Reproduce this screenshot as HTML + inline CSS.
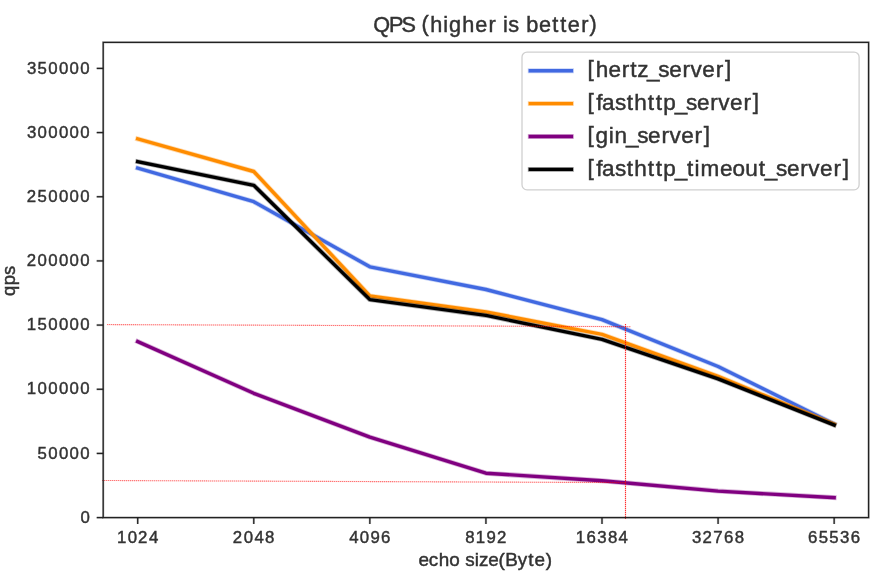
<!DOCTYPE html>
<html><head><meta charset="utf-8"><title>QPS (higher is better)</title>
<style>html,body{margin:0;padding:0;background:#fff;}svg{display:block;will-change:transform;}text{font-family:"Liberation Sans",sans-serif;fill:#333;stroke:#333;stroke-width:0.45px;}</style>
</head><body>
<svg width="885" height="582" viewBox="0 0 885 582">
<rect x="0" y="0" width="885" height="582" fill="#fff"/>
<polyline points="137.70,168.10 253.77,201.70 369.85,266.80 485.93,289.50 602.00,319.60 718.08,366.50 834.15,423.90" fill="none" stroke="#4169e1" stroke-opacity="0.3" stroke-width="5.0" stroke-linecap="square" stroke-linejoin="round"/>
<polyline points="137.70,168.10 253.77,201.70 369.85,266.80 485.93,289.50 602.00,319.60 718.08,366.50 834.15,423.90" fill="none" stroke="#4169e1" stroke-width="3.4" stroke-linecap="square" stroke-linejoin="round"/>
<polyline points="137.70,138.90 253.77,171.50 369.85,295.90 485.93,311.90 602.00,334.40 718.08,376.30 834.15,424.20" fill="none" stroke="#ff8c00" stroke-opacity="0.3" stroke-width="5.0" stroke-linecap="square" stroke-linejoin="round"/>
<polyline points="137.70,138.90 253.77,171.50 369.85,295.90 485.93,311.90 602.00,334.40 718.08,376.30 834.15,424.20" fill="none" stroke="#ff8c00" stroke-width="3.4" stroke-linecap="square" stroke-linejoin="round"/>
<polyline points="137.70,341.60 253.77,393.30 369.85,437.20 485.93,473.20 602.00,480.70 718.08,491.10 834.15,497.70" fill="none" stroke="#800080" stroke-opacity="0.3" stroke-width="5.0" stroke-linecap="square" stroke-linejoin="round"/>
<polyline points="137.70,341.60 253.77,393.30 369.85,437.20 485.93,473.20 602.00,480.70 718.08,491.10 834.15,497.70" fill="none" stroke="#800080" stroke-width="3.4" stroke-linecap="square" stroke-linejoin="round"/>
<polyline points="137.70,161.60 253.77,185.30 369.85,299.60 485.93,315.40 602.00,339.40 718.08,378.90 834.15,425.00" fill="none" stroke="#000000" stroke-opacity="0.3" stroke-width="5.0" stroke-linecap="square" stroke-linejoin="round"/>
<polyline points="137.70,161.60 253.77,185.30 369.85,299.60 485.93,315.40 602.00,339.40 718.08,378.90 834.15,425.00" fill="none" stroke="#000000" stroke-width="3.4" stroke-linecap="square" stroke-linejoin="round"/>
<g stroke="#ff0000" stroke-width="1.2" fill="none" opacity="0.2"><line x1="107" y1="324.55" x2="631" y2="326.7"/><line x1="102" y1="480.5" x2="625.5" y2="482.6"/></g>
<g stroke="#ff0000" stroke-width="1.1" stroke-dasharray="1 1" fill="none" opacity="0.42"><line x1="107" y1="324.55" x2="631" y2="326.7"/><line x1="102" y1="480.5" x2="625.5" y2="482.6"/></g>
<g stroke="#ff0000" stroke-width="1.2" fill="none" opacity="0.25"><line x1="625.5" y1="324" x2="625.5" y2="519"/></g>
<g stroke="#ff0000" stroke-width="1.1" stroke-dasharray="1 1" fill="none" opacity="0.75"><line x1="625.5" y1="324" x2="625.5" y2="519"/></g>
<rect x="522.0" y="52.05" width="337.10" height="137.75" rx="5" ry="5" fill="#fff" fill-opacity="0.8" stroke="#d0d0d0" stroke-width="1.3"/>
<line x1="530.3" y1="70.70" x2="571.4" y2="70.70" stroke="#4169e1" stroke-opacity="0.3" stroke-width="5.0" stroke-linecap="square"/>
<line x1="530.3" y1="70.70" x2="571.4" y2="70.70" stroke="#4169e1" stroke-width="3.4" stroke-linecap="square"/>
<text transform="scale(1.04,1)" x="564.90 572.79 585.11 597.94 606.03 612.81 622.23 632.99 643.47 656.30 664.01 675.33 688.16 697.08" y="76.32 77.20 77.20 77.20 77.20 77.20 77.20 77.20 77.20 77.20 77.20 77.20 77.20 76.32" font-size="21.68">[hertz_server]</text>
<line x1="530.3" y1="103.60" x2="571.4" y2="103.60" stroke="#ff8c00" stroke-opacity="0.3" stroke-width="5.0" stroke-linecap="square"/>
<line x1="530.3" y1="103.60" x2="571.4" y2="103.60" stroke="#ff8c00" stroke-width="3.4" stroke-linecap="square"/>
<text transform="scale(1.04,1)" x="564.90 573.25 578.74 591.41 602.59 609.76 622.79 630.51 637.79 648.88 659.64 670.12 682.95 690.66 701.98 714.80 723.72" y="109.22 110.10 110.10 110.10 110.10 110.10 110.10 110.10 110.10 110.10 110.10 110.10 110.10 110.10 110.10 110.10 109.22" font-size="21.68">[fasthttp_server]</text>
<line x1="530.3" y1="136.50" x2="571.4" y2="136.50" stroke="#800080" stroke-opacity="0.3" stroke-width="5.0" stroke-linecap="square"/>
<line x1="530.3" y1="136.50" x2="571.4" y2="136.50" stroke="#800080" stroke-width="3.4" stroke-linecap="square"/>
<text transform="scale(1.04,1)" x="564.90 572.68 585.37 590.79 601.94 612.70 623.18 636.01 643.72 655.04 667.86 676.78" y="142.12 143.00 143.00 143.00 143.00 143.00 143.00 143.00 143.00 143.00 143.00 142.12" font-size="21.68">[gin_server]</text>
<line x1="530.3" y1="169.40" x2="571.4" y2="169.40" stroke="#000000" stroke-opacity="0.3" stroke-width="5.0" stroke-linecap="square"/>
<line x1="530.3" y1="169.40" x2="571.4" y2="169.40" stroke="#000000" stroke-width="3.4" stroke-linecap="square"/>
<text transform="scale(1.04,1)" x="564.90 573.25 578.74 591.41 602.59 609.76 622.79 630.51 637.79 648.88 660.57 667.82 673.63 692.23 704.27 716.49 729.57 735.44 746.20 756.68 769.51 777.22 788.54 801.37 810.29" y="175.02 175.90 175.90 175.90 175.90 175.90 175.90 175.90 175.90 175.90 175.90 175.90 175.90 175.90 175.90 175.90 175.90 175.90 175.90 175.90 175.90 175.90 175.90 175.90 175.02" font-size="21.68">[fasthttp_timeout_server]</text>
<rect x="103.2" y="42.36" width="765.40" height="475.24" fill="none" stroke="#222" stroke-opacity="0.25" stroke-width="2.4"/>
<rect x="103.2" y="42.36" width="765.40" height="475.24" fill="none" stroke="#222" stroke-width="1.3"/>
<text transform="scale(1.0,1)" x="80.38" y="522.80" font-size="16.80">0</text>
<text transform="scale(1.0,1)" x="37.56 48.28 58.94 69.60 80.25" y="458.63 458.63 458.63 458.63 458.63" font-size="16.80">50000</text>
<text transform="scale(1.0,1)" x="26.86 37.59 48.25 58.91 69.56 80.22" y="394.46 394.46 394.46 394.46 394.46 394.46" font-size="16.80">100000</text>
<text transform="scale(1.0,1)" x="26.86 37.53 48.25 58.91 69.56 80.22" y="330.29 330.29 330.29 330.29 330.29 330.29" font-size="16.80">150000</text>
<text transform="scale(1.0,1)" x="26.72 37.59 48.25 58.91 69.56 80.22" y="266.11 266.11 266.11 266.11 266.11 266.11" font-size="16.80">200000</text>
<text transform="scale(1.0,1)" x="26.72 37.53 48.25 58.91 69.56 80.22" y="201.94 201.94 201.94 201.94 201.94 201.94" font-size="16.80">250000</text>
<text transform="scale(1.0,1)" x="26.96 37.59 48.25 58.91 69.56 80.22" y="137.77 137.77 137.77 137.77 137.77 137.77" font-size="16.80">300000</text>
<text transform="scale(1.0,1)" x="26.96 37.53 48.25 58.91 69.56 80.22" y="73.60 73.60 73.60 73.60 73.60 73.60" font-size="16.80">350000</text>
<text transform="scale(1.0,1)" x="116.91 127.65 138.08 148.96" y="542.80 542.80 542.80 542.80" font-size="16.80">1024</text>
<text transform="scale(1.0,1)" x="232.84 243.72 254.38 265.04" y="542.80 542.80 542.80 542.80" font-size="16.80">2048</text>
<text transform="scale(1.0,1)" x="349.14 359.80 370.40 381.12" y="542.80 542.80 542.80 542.80" font-size="16.80">4096</text>
<text transform="scale(1.0,1)" x="465.22 475.80 486.48 496.97" y="542.80 542.80 542.80 542.80" font-size="16.80">8192</text>
<text transform="scale(1.0,1)" x="575.87 586.61 597.28 607.92 618.57" y="542.80 542.80 542.80 542.80 542.80" font-size="16.80">16384</text>
<text transform="scale(1.0,1)" x="692.04 702.46 713.30 724.00 734.65" y="542.80 542.80 542.80 542.80 542.80" font-size="16.80">32768</text>
<text transform="scale(1.0,1)" x="808.10 818.69 829.34 840.09 850.73" y="542.80 542.80 542.80 542.80 542.80" font-size="16.80">65536</text>
<g stroke="#222" stroke-opacity="0.25" stroke-width="2.4"><line x1="96.70" y1="517.60" x2="103.20" y2="517.60"/><line x1="96.70" y1="453.43" x2="103.20" y2="453.43"/><line x1="96.70" y1="389.26" x2="103.20" y2="389.26"/><line x1="96.70" y1="325.09" x2="103.20" y2="325.09"/><line x1="96.70" y1="260.91" x2="103.20" y2="260.91"/><line x1="96.70" y1="196.74" x2="103.20" y2="196.74"/><line x1="96.70" y1="132.57" x2="103.20" y2="132.57"/><line x1="96.70" y1="68.40" x2="103.20" y2="68.40"/><line x1="137.70" y1="517.60" x2="137.70" y2="523.90"/><line x1="253.77" y1="517.60" x2="253.77" y2="523.90"/><line x1="369.85" y1="517.60" x2="369.85" y2="523.90"/><line x1="485.93" y1="517.60" x2="485.93" y2="523.90"/><line x1="602.00" y1="517.60" x2="602.00" y2="523.90"/><line x1="718.08" y1="517.60" x2="718.08" y2="523.90"/><line x1="834.15" y1="517.60" x2="834.15" y2="523.90"/></g>
<g stroke="#222" stroke-width="1.3"><line x1="96.70" y1="517.60" x2="103.20" y2="517.60"/><line x1="96.70" y1="453.43" x2="103.20" y2="453.43"/><line x1="96.70" y1="389.26" x2="103.20" y2="389.26"/><line x1="96.70" y1="325.09" x2="103.20" y2="325.09"/><line x1="96.70" y1="260.91" x2="103.20" y2="260.91"/><line x1="96.70" y1="196.74" x2="103.20" y2="196.74"/><line x1="96.70" y1="132.57" x2="103.20" y2="132.57"/><line x1="96.70" y1="68.40" x2="103.20" y2="68.40"/><line x1="137.70" y1="517.60" x2="137.70" y2="523.90"/><line x1="253.77" y1="517.60" x2="253.77" y2="523.90"/><line x1="369.85" y1="517.60" x2="369.85" y2="523.90"/><line x1="485.93" y1="517.60" x2="485.93" y2="523.90"/><line x1="602.00" y1="517.60" x2="602.00" y2="523.90"/><line x1="718.08" y1="517.60" x2="718.08" y2="523.90"/><line x1="834.15" y1="517.60" x2="834.15" y2="523.90"/></g>
<text transform="scale(1.0,1)" x="373.13 389.01 401.54 415.47 421.62 430.33 443.34 449.00 462.22 475.13 488.49 496.21 502.96 508.33 519.24 526.18 538.98 552.29 560.37 567.84 581.20 589.61" y="31.70 31.70 31.70 31.70 30.84 31.70 31.70 31.70 31.70 31.70 31.70 31.70 31.70 31.70 31.70 31.70 31.70 31.70 31.70 31.70 31.70 30.84" font-size="21.68">QPS (higher is better)</text>
<text transform="scale(1.04,1)" x="402.32 412.25 421.77 432.10 442.33 447.39 456.42 460.64 469.53 479.40 485.72 497.87 508.00 513.91 524.69" y="566.30 566.30 566.30 566.30 566.30 566.30 566.30 566.30 566.30 565.58 566.30 566.30 566.30 566.30 565.58" font-size="18.17">echo size(Byte)</text>
<g transform="translate(15.0,0) rotate(-90)"><text transform="scale(1.04,1)" x="-284.62 -274.21 -264.39" y="0.00 0.00 0.00" font-size="17.64">qps</text></g>
</svg>
</body></html>
